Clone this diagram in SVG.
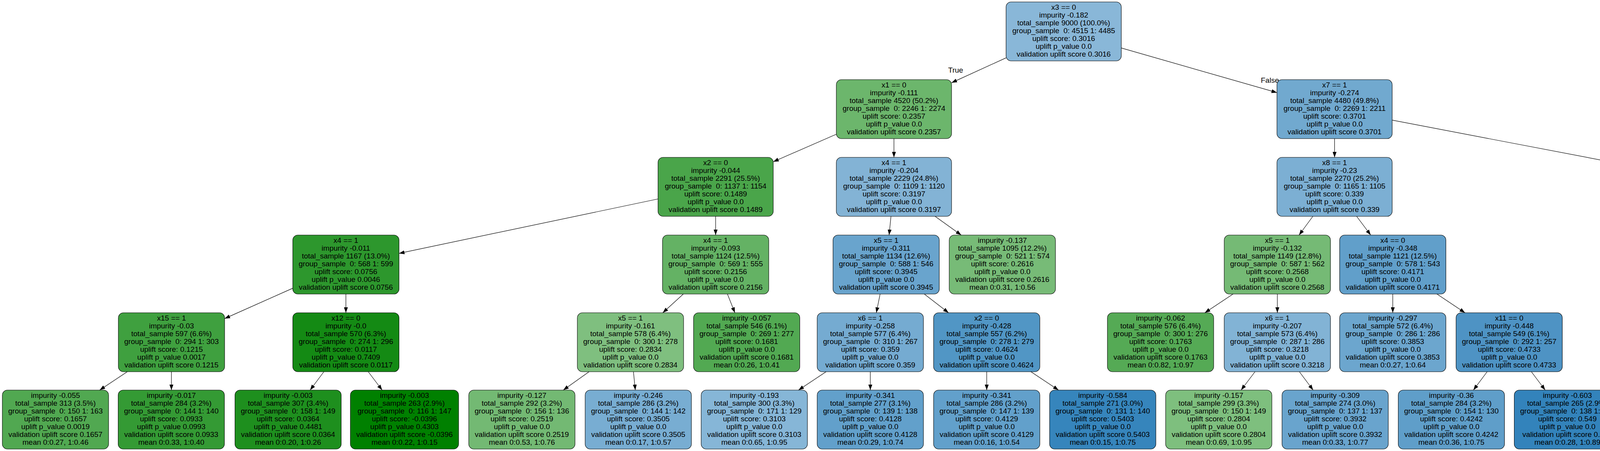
<svg xmlns="http://www.w3.org/2000/svg" width="5343" height="1155" viewBox="0 0 5343 1155">
<defs>
<style>
text{font-family:"Liberation Sans",Arial,Helvetica,sans-serif;font-size:19px;fill:#000;text-anchor:middle;white-space:pre}
.n rect{stroke:#000;stroke-width:1.1}
.e line{stroke:#000;stroke-width:1.2;marker-end:url(#ah)}
</style>
<marker id="ah" markerUnits="userSpaceOnUse" markerWidth="14" markerHeight="10" refX="14" refY="5" orient="auto" viewBox="0 0 14 10"><path d="M0,0L14,5L0,10z" fill="#000"/></marker>
</defs>
<rect width="5343" height="1155" fill="#fff"/>
<g id="connectors" class="e">
<line x1="2575.5" y1="148.1" x2="2436" y2="211.9"/>
<line x1="2870.5" y1="122.8" x2="3269" y2="237.2"/>
<line x1="2141" y1="343.8" x2="1979.5" y2="414.2"/>
<line x1="2288.5" y1="355" x2="2288.5" y2="403"/>
<line x1="3416.5" y1="355" x2="3416.5" y2="403"/>
<line x1="3564" y1="307.7" x2="4309.5" y2="450.3"/>
<line x1="1684.5" y1="509.5" x2="1021.5" y2="648.9"/>
<line x1="1832" y1="554" x2="1832" y2="602"/>
<line x1="2280.9" y1="554" x2="2276.1" y2="602"/>
<line x1="2393.8" y1="554" x2="2460.7" y2="602"/>
<line x1="3360.9" y1="554" x2="3325.6" y2="602"/>
<line x1="3473" y1="554" x2="3509" y2="602"/>
<line x1="4457.2" y1="554" x2="4457.2" y2="602"/>
<line x1="4604.5" y1="544.2" x2="4767.5" y2="616.9"/>
<line x1="749.5" y1="738.1" x2="575" y2="815.9"/>
<line x1="885.5" y1="753" x2="885.5" y2="801"/>
<line x1="1749.3" y1="753" x2="1696.7" y2="801"/>
<line x1="1862.2" y1="753" x2="1881.3" y2="801"/>
<line x1="2253.1" y1="753" x2="2243.4" y2="801"/>
<line x1="2366.2" y1="753" x2="2428.3" y2="801"/>
<line x1="3156.6" y1="753" x2="3084.4" y2="801"/>
<line x1="3270" y1="753" x2="3270" y2="801"/>
<line x1="3565.5" y1="753" x2="3565.5" y2="801"/>
<line x1="3678.6" y1="753" x2="3750.4" y2="801"/>
<line x1="4401" y1="753" x2="4365" y2="801"/>
<line x1="4514" y1="753" x2="4550" y2="801"/>
<line x1="4903.5" y1="753" x2="4903.5" y2="801"/>
<line x1="5016.2" y1="753" x2="5087.8" y2="801"/>
<line x1="325.8" y1="952" x2="255.2" y2="999"/>
<line x1="438.8" y1="952" x2="438.8" y2="999"/>
<line x1="829.1" y1="952" x2="793.9" y2="999"/>
<line x1="942.7" y1="952" x2="978.3" y2="999"/>
<line x1="1508" y1="952" x2="1442" y2="999"/>
<line x1="1621.6" y1="952" x2="1626.4" y2="999"/>
<line x1="2114.8" y1="952" x2="2044.2" y2="999"/>
<line x1="2228" y1="952" x2="2228" y2="999"/>
<line x1="2526" y1="952" x2="2526" y2="999"/>
<line x1="2639.2" y1="952" x2="2709.8" y2="999"/>
<line x1="3212.8" y1="952" x2="3177.2" y2="999"/>
<line x1="3326.4" y1="952" x2="3361.6" y2="999"/>
<line x1="3807.1" y1="952" x2="3771.9" y2="999"/>
<line x1="3920.3" y1="952" x2="3955.7" y2="999"/>
<line x1="4308.5" y1="952" x2="4308.5" y2="999"/>
<line x1="4422.1" y1="952" x2="4492.9" y2="999"/>
<line x1="4903.5" y1="952" x2="4903.5" y2="999"/>
<line x1="5016.7" y1="952" x2="5087.3" y2="999"/>
<text x="2446.5" y="186">True</text>
<text x="3251" y="212">False</text>
</g>

<g id="node0" class="n"><rect x="2575.5" y="5" width="295" height="151" rx="13" fill="#89b7d8"/><text x="2723" y="25"><tspan x="2723">x3 == 0</tspan><tspan x="2723" dy="20">impurity -0.182</tspan><tspan x="2723" dy="20">total_sample 9000 (100.0%)</tspan><tspan x="2723" dy="20">group_sample  0: 4515 1: 4485</tspan><tspan x="2723" dy="20">uplift score: 0.3016</tspan><tspan x="2723" dy="20">uplift p_value 0.0</tspan><tspan x="2723" dy="20">validation uplift score 0.3016</tspan></text></g>

<g id="node1" class="n"><rect x="2141" y="204" width="295" height="151" rx="13" fill="#6cb66c"/><text x="2288.5" y="224"><tspan x="2288.5">x1 == 0</tspan><tspan x="2288.5" dy="20">impurity -0.111</tspan><tspan x="2288.5" dy="20">total_sample 4520 (50.2%)</tspan><tspan x="2288.5" dy="20">group_sample  0: 2246 1: 2274</tspan><tspan x="2288.5" dy="20">uplift score: 0.2357</tspan><tspan x="2288.5" dy="20">uplift p_value 0.0</tspan><tspan x="2288.5" dy="20">validation uplift score 0.2357</tspan></text></g>

<g id="node2" class="n"><rect x="3269" y="204" width="295" height="151" rx="13" fill="#71a9cf"/><text x="3416.5" y="224"><tspan x="3416.5">x7 == 1</tspan><tspan x="3416.5" dy="20">impurity -0.274</tspan><tspan x="3416.5" dy="20">total_sample 4480 (49.8%)</tspan><tspan x="3416.5" dy="20">group_sample  0: 2269 1: 2211</tspan><tspan x="3416.5" dy="20">uplift score: 0.3701</tspan><tspan x="3416.5" dy="20">uplift p_value 0.0</tspan><tspan x="3416.5" dy="20">validation uplift score 0.3701</tspan></text></g>

<g id="node3" class="n"><rect x="1684.5" y="403" width="295" height="151" rx="13" fill="#4aa54a"/><text x="1832" y="423"><tspan x="1832">x2 == 0</tspan><tspan x="1832" dy="20">impurity -0.044</tspan><tspan x="1832" dy="20">total_sample 2291 (25.5%)</tspan><tspan x="1832" dy="20">group_sample  0: 1137 1: 1154</tspan><tspan x="1832" dy="20">uplift score: 0.1489</tspan><tspan x="1832" dy="20">uplift p_value 0.0</tspan><tspan x="1832" dy="20">validation uplift score 0.1489</tspan></text></g>

<g id="node4" class="n"><rect x="2141" y="403" width="295" height="151" rx="13" fill="#83b3d5"/><text x="2288.5" y="423"><tspan x="2288.5">x4 == 1</tspan><tspan x="2288.5" dy="20">impurity -0.204</tspan><tspan x="2288.5" dy="20">total_sample 2229 (24.8%)</tspan><tspan x="2288.5" dy="20">group_sample  0: 1109 1: 1120</tspan><tspan x="2288.5" dy="20">uplift score: 0.3197</tspan><tspan x="2288.5" dy="20">uplift p_value 0.0</tspan><tspan x="2288.5" dy="20">validation uplift score 0.3197</tspan></text></g>

<g id="node5" class="n"><rect x="3269" y="403" width="295" height="151" rx="13" fill="#7cafd3"/><text x="3416.5" y="423"><tspan x="3416.5">x8 == 1</tspan><tspan x="3416.5" dy="20">impurity -0.23</tspan><tspan x="3416.5" dy="20">total_sample 2270 (25.2%)</tspan><tspan x="3416.5" dy="20">group_sample  0: 1165 1: 1105</tspan><tspan x="3416.5" dy="20">uplift score: 0.339</tspan><tspan x="3416.5" dy="20">uplift p_value 0.0</tspan><tspan x="3416.5" dy="20">validation uplift score 0.339</tspan></text></g>

<g id="node6" class="n"><rect x="4309.5" y="403" width="295" height="151" rx="13" fill="#62a0ca"/><text x="4457" y="423"><tspan x="4457">x6 == 0</tspan><tspan x="4457" dy="20">impurity -0.342</tspan><tspan x="4457" dy="20">total_sample 2210 (24.6%)</tspan><tspan x="4457" dy="20">group_sample  0: 1104 1: 1106</tspan><tspan x="4457" dy="20">uplift score: 0.4134</tspan><tspan x="4457" dy="20">uplift p_value 0.0</tspan><tspan x="4457" dy="20">validation uplift score 0.4134</tspan></text></g>

<g id="node7" class="n"><rect x="749.5" y="602" width="272" height="151" rx="13" fill="#2d972d"/><text x="885.5" y="622"><tspan x="885.5">x4 == 1</tspan><tspan x="885.5" dy="20">impurity -0.011</tspan><tspan x="885.5" dy="20">total_sample 1167 (13.0%)</tspan><tspan x="885.5" dy="20">group_sample  0: 568 1: 599</tspan><tspan x="885.5" dy="20">uplift score: 0.0756</tspan><tspan x="885.5" dy="20">uplift p_value 0.0046</tspan><tspan x="885.5" dy="20">validation uplift score 0.0756</tspan></text></g>

<g id="node8" class="n"><rect x="1696" y="602" width="272" height="151" rx="13" fill="#64b264"/><text x="1832" y="622"><tspan x="1832">x4 == 1</tspan><tspan x="1832" dy="20">impurity -0.093</tspan><tspan x="1832" dy="20">total_sample 1124 (12.5%)</tspan><tspan x="1832" dy="20">group_sample  0: 569 1: 555</tspan><tspan x="1832" dy="20">uplift score: 0.2156</tspan><tspan x="1832" dy="20">uplift p_value 0.0</tspan><tspan x="1832" dy="20">validation uplift score 0.2156</tspan></text></g>

<g id="node9" class="n"><rect x="2132.5" y="602" width="272" height="151" rx="13" fill="#69a4cd"/><text x="2268.5" y="622"><tspan x="2268.5">x5 == 1</tspan><tspan x="2268.5" dy="20">impurity -0.311</tspan><tspan x="2268.5" dy="20">total_sample 1134 (12.6%)</tspan><tspan x="2268.5" dy="20">group_sample  0: 588 1: 546</tspan><tspan x="2268.5" dy="20">uplift score: 0.3945</tspan><tspan x="2268.5" dy="20">uplift p_value 0.0</tspan><tspan x="2268.5" dy="20">validation uplift score 0.3945</tspan></text></g>

<g id="node10" class="n"><rect x="2430" y="602" width="272" height="151" rx="13" fill="#77bb77"/><text x="2566" y="622"><tspan x="2566">impurity -0.137</tspan><tspan x="2566" dy="20">total_sample 1095 (12.2%)</tspan><tspan x="2566" dy="20">group_sample  0: 521 1: 574</tspan><tspan x="2566" dy="20">uplift score: 0.2616</tspan><tspan x="2566" dy="20">uplift p_value 0.0</tspan><tspan x="2566" dy="20">validation uplift score 0.2616</tspan><tspan x="2566" dy="20">mean 0:0.31, 1:0.56</tspan></text></g>

<g id="node11" class="n"><rect x="3134" y="602" width="272" height="151" rx="13" fill="#75ba75"/><text x="3270" y="622"><tspan x="3270">x5 == 1</tspan><tspan x="3270" dy="20">impurity -0.132</tspan><tspan x="3270" dy="20">total_sample 1149 (12.8%)</tspan><tspan x="3270" dy="20">group_sample  0: 587 1: 562</tspan><tspan x="3270" dy="20">uplift score: 0.2568</tspan><tspan x="3270" dy="20">uplift p_value 0.0</tspan><tspan x="3270" dy="20">validation uplift score 0.2568</tspan></text></g>

<g id="node12" class="n"><rect x="3429.5" y="602" width="272" height="151" rx="13" fill="#619fca"/><text x="3565.5" y="622"><tspan x="3565.5">x4 == 0</tspan><tspan x="3565.5" dy="20">impurity -0.348</tspan><tspan x="3565.5" dy="20">total_sample 1121 (12.5%)</tspan><tspan x="3565.5" dy="20">group_sample  0: 578 1: 543</tspan><tspan x="3565.5" dy="20">uplift score: 0.4171</tspan><tspan x="3565.5" dy="20">uplift p_value 0.0</tspan><tspan x="3565.5" dy="20">validation uplift score 0.4171</tspan></text></g>

<g id="node13" class="n"><rect x="4321.5" y="602" width="272" height="151" rx="13" fill="#69a4cd"/><text x="4457.5" y="622"><tspan x="4457.5">x4 == 1</tspan><tspan x="4457.5" dy="20">impurity -0.312</tspan><tspan x="4457.5" dy="20">total_sample 1126 (12.5%)</tspan><tspan x="4457.5" dy="20">group_sample  0: 547 1: 579</tspan><tspan x="4457.5" dy="20">uplift score: 0.3947</tspan><tspan x="4457.5" dy="20">uplift p_value 0.0</tspan><tspan x="4457.5" dy="20">validation uplift score 0.3947</tspan></text></g>

<g id="node14" class="n"><rect x="4767.5" y="602" width="272" height="151" rx="13" fill="#5698c6"/><text x="4903.5" y="622"><tspan x="4903.5">x4 == 1</tspan><tspan x="4903.5" dy="20">impurity -0.405</tspan><tspan x="4903.5" dy="20">total_sample 1084 (12.0%)</tspan><tspan x="4903.5" dy="20">group_sample  0: 557 1: 527</tspan><tspan x="4903.5" dy="20">uplift score: 0.4501</tspan><tspan x="4903.5" dy="20">uplift p_value 0.0</tspan><tspan x="4903.5" dy="20">validation uplift score 0.4501</tspan></text></g>

<g id="node15" class="n"><rect x="303" y="801" width="272" height="151" rx="13" fill="#3fa03f"/><text x="439" y="821"><tspan x="439">x15 == 1</tspan><tspan x="439" dy="20">impurity -0.03</tspan><tspan x="439" dy="20">total_sample 597 (6.6%)</tspan><tspan x="439" dy="20">group_sample  0: 294 1: 303</tspan><tspan x="439" dy="20">uplift score: 0.1215</tspan><tspan x="439" dy="20">uplift p_value 0.0017</tspan><tspan x="439" dy="20">validation uplift score 0.1215</tspan></text></g>

<g id="node16" class="n"><rect x="749.5" y="801" width="272" height="151" rx="13" fill="#148a14"/><text x="885.5" y="821"><tspan x="885.5">x12 == 0</tspan><tspan x="885.5" dy="20">impurity -0.0</tspan><tspan x="885.5" dy="20">total_sample 570 (6.3%)</tspan><tspan x="885.5" dy="20">group_sample  0: 274 1: 296</tspan><tspan x="885.5" dy="20">uplift score: 0.0117</tspan><tspan x="885.5" dy="20">uplift p_value 0.7409</tspan><tspan x="885.5" dy="20">validation uplift score 0.0117</tspan></text></g>

<g id="node17" class="n"><rect x="1478" y="801" width="272" height="151" rx="13" fill="#7fbf7f"/><text x="1614" y="821"><tspan x="1614">x5 == 1</tspan><tspan x="1614" dy="20">impurity -0.161</tspan><tspan x="1614" dy="20">total_sample 578 (6.4%)</tspan><tspan x="1614" dy="20">group_sample  0: 300 1: 278</tspan><tspan x="1614" dy="20">uplift score: 0.2834</tspan><tspan x="1614" dy="20">uplift p_value 0.0</tspan><tspan x="1614" dy="20">validation uplift score 0.2834</tspan></text></g>

<g id="node18" class="n"><rect x="1775.5" y="801" width="272" height="151" rx="13" fill="#52a952"/><text x="1911.5" y="821"><tspan x="1911.5">impurity -0.057</tspan><tspan x="1911.5" dy="20">total_sample 546 (6.1%)</tspan><tspan x="1911.5" dy="20">group_sample  0: 269 1: 277</tspan><tspan x="1911.5" dy="20">uplift score: 0.1681</tspan><tspan x="1911.5" dy="20">uplift p_value 0.0</tspan><tspan x="1911.5" dy="20">validation uplift score 0.1681</tspan><tspan x="1911.5" dy="20">mean 0:0.26, 1:0.41</tspan></text></g>

<g id="node19" class="n"><rect x="2092" y="801" width="272" height="151" rx="13" fill="#75abd1"/><text x="2228" y="821"><tspan x="2228">x6 == 1</tspan><tspan x="2228" dy="20">impurity -0.258</tspan><tspan x="2228" dy="20">total_sample 577 (6.4%)</tspan><tspan x="2228" dy="20">group_sample  0: 310 1: 267</tspan><tspan x="2228" dy="20">uplift score: 0.359</tspan><tspan x="2228" dy="20">uplift p_value 0.0</tspan><tspan x="2228" dy="20">validation uplift score 0.359</tspan></text></g>

<g id="node20" class="n"><rect x="2390" y="801" width="272" height="151" rx="13" fill="#5196c5"/><text x="2526" y="821"><tspan x="2526">x2 == 0</tspan><tspan x="2526" dy="20">impurity -0.428</tspan><tspan x="2526" dy="20">total_sample 557 (6.2%)</tspan><tspan x="2526" dy="20">group_sample  0: 278 1: 279</tspan><tspan x="2526" dy="20">uplift score: 0.4624</tspan><tspan x="2526" dy="20">uplift p_value 0.0</tspan><tspan x="2526" dy="20">validation uplift score 0.4624</tspan></text></g>

<g id="node21" class="n"><rect x="2835" y="801" width="272" height="151" rx="13" fill="#55aa55"/><text x="2971" y="821"><tspan x="2971">impurity -0.062</tspan><tspan x="2971" dy="20">total_sample 576 (6.4%)</tspan><tspan x="2971" dy="20">group_sample  0: 300 1: 276</tspan><tspan x="2971" dy="20">uplift score: 0.1763</tspan><tspan x="2971" dy="20">uplift p_value 0.0</tspan><tspan x="2971" dy="20">validation uplift score 0.1763</tspan><tspan x="2971" dy="20">mean 0:0.82, 1:0.97</tspan></text></g>

<g id="node22" class="n"><rect x="3134" y="801" width="272" height="151" rx="13" fill="#82b3d5"/><text x="3270" y="821"><tspan x="3270">x6 == 1</tspan><tspan x="3270" dy="20">impurity -0.207</tspan><tspan x="3270" dy="20">total_sample 573 (6.4%)</tspan><tspan x="3270" dy="20">group_sample  0: 287 1: 286</tspan><tspan x="3270" dy="20">uplift score: 0.3218</tspan><tspan x="3270" dy="20">uplift p_value 0.0</tspan><tspan x="3270" dy="20">validation uplift score 0.3218</tspan></text></g>

<g id="node23" class="n"><rect x="3429.5" y="801" width="272" height="151" rx="13" fill="#6ca6ce"/><text x="3565.5" y="821"><tspan x="3565.5">impurity -0.297</tspan><tspan x="3565.5" dy="20">total_sample 572 (6.4%)</tspan><tspan x="3565.5" dy="20">group_sample  0: 286 1: 286</tspan><tspan x="3565.5" dy="20">uplift score: 0.3853</tspan><tspan x="3565.5" dy="20">uplift p_value 0.0</tspan><tspan x="3565.5" dy="20">validation uplift score 0.3853</tspan><tspan x="3565.5" dy="20">mean 0:0.27, 1:0.64</tspan></text></g>

<g id="node24" class="n"><rect x="3727.5" y="801" width="272" height="151" rx="13" fill="#4e93c4"/><text x="3863.5" y="821"><tspan x="3863.5">x11 == 0</tspan><tspan x="3863.5" dy="20">impurity -0.448</tspan><tspan x="3863.5" dy="20">total_sample 549 (6.1%)</tspan><tspan x="3863.5" dy="20">group_sample  0: 292 1: 257</tspan><tspan x="3863.5" dy="20">uplift score: 0.4733</tspan><tspan x="3863.5" dy="20">uplift p_value 0.0</tspan><tspan x="3863.5" dy="20">validation uplift score 0.4733</tspan></text></g>

<g id="node25" class="n"><rect x="4172.5" y="801" width="272" height="151" rx="13" fill="#5397c6"/><text x="4308.5" y="821"><tspan x="4308.5">x8 == 1</tspan><tspan x="4308.5" dy="20">impurity -0.417</tspan><tspan x="4308.5" dy="20">total_sample 614 (6.8%)</tspan><tspan x="4308.5" dy="20">group_sample  0: 300 1: 314</tspan><tspan x="4308.5" dy="20">uplift score: 0.4569</tspan><tspan x="4308.5" dy="20">uplift p_value 0.0</tspan><tspan x="4308.5" dy="20">validation uplift score 0.4569</tspan></text></g>

<g id="node26" class="n"><rect x="4470.5" y="801" width="272" height="151" rx="13" fill="#83b3d5"/><text x="4606.5" y="821"><tspan x="4606.5">impurity -0.205</tspan><tspan x="4606.5" dy="20">total_sample 512 (5.7%)</tspan><tspan x="4606.5" dy="20">group_sample  0: 247 1: 265</tspan><tspan x="4606.5" dy="20">uplift score: 0.3202</tspan><tspan x="4606.5" dy="20">uplift p_value 0.0</tspan><tspan x="4606.5" dy="20">validation uplift score 0.3202</tspan><tspan x="4606.5" dy="20">mean 0:0.08, 1:0.37</tspan></text></g>

<g id="node27" class="n"><rect x="4767.5" y="801" width="272" height="151" rx="13" fill="#438dc0"/><text x="4903.5" y="821"><tspan x="4903.5">x5 == 0</tspan><tspan x="4903.5" dy="20">impurity -0.509</tspan><tspan x="4903.5" dy="20">total_sample 543 (6.0%)</tspan><tspan x="4903.5" dy="20">group_sample  0: 278 1: 265</tspan><tspan x="4903.5" dy="20">uplift score: 0.5045</tspan><tspan x="4903.5" dy="20">uplift p_value 0.0</tspan><tspan x="4903.5" dy="20">validation uplift score 0.5045</tspan></text></g>

<g id="node28" class="n"><rect x="5064.5" y="801" width="272" height="151" rx="13" fill="#65a1cb"/><text x="5200.5" y="821"><tspan x="5200.5">impurity -0.33</tspan><tspan x="5200.5" dy="20">total_sample 541 (6.0%)</tspan><tspan x="5200.5" dy="20">group_sample  0: 279 1: 262</tspan><tspan x="5200.5" dy="20">uplift score: 0.4061</tspan><tspan x="5200.5" dy="20">uplift p_value 0.0</tspan><tspan x="5200.5" dy="20">validation uplift score 0.4061</tspan><tspan x="5200.5" dy="20">mean 0:0.29, 1:0.68</tspan></text></g>

<g id="node29" class="n"><rect x="6" y="999" width="272" height="151" rx="13" fill="#51a851"/><text x="142" y="1019"><tspan x="142">impurity -0.055</tspan><tspan x="142" dy="20">total_sample 313 (3.5%)</tspan><tspan x="142" dy="20">group_sample  0: 150 1: 163</tspan><tspan x="142" dy="20">uplift score: 0.1657</tspan><tspan x="142" dy="20">uplift p_value 0.0019</tspan><tspan x="142" dy="20">validation uplift score 0.1657</tspan><tspan x="142" dy="20">mean 0:0.27, 1:0.46</tspan></text></g>

<g id="node30" class="n"><rect x="302.5" y="999" width="272" height="151" rx="13" fill="#349a34"/><text x="438.5" y="1019"><tspan x="438.5">impurity -0.017</tspan><tspan x="438.5" dy="20">total_sample 284 (3.2%)</tspan><tspan x="438.5" dy="20">group_sample  0: 144 1: 140</tspan><tspan x="438.5" dy="20">uplift score: 0.0933</tspan><tspan x="438.5" dy="20">uplift p_value 0.0993</tspan><tspan x="438.5" dy="20">validation uplift score 0.0933</tspan><tspan x="438.5" dy="20">mean 0:0.33, 1:0.40</tspan></text></g>

<g id="node31" class="n"><rect x="601.5" y="999" width="272" height="151" rx="13" fill="#1e8f1e"/><text x="737.5" y="1019"><tspan x="737.5">impurity -0.003</tspan><tspan x="737.5" dy="20">total_sample 307 (3.4%)</tspan><tspan x="737.5" dy="20">group_sample  0: 158 1: 149</tspan><tspan x="737.5" dy="20">uplift score: 0.0364</tspan><tspan x="737.5" dy="20">uplift p_value 0.4481</tspan><tspan x="737.5" dy="20">validation uplift score 0.0364</tspan><tspan x="737.5" dy="20">mean 0:0.20, 1:0.26</tspan></text></g>

<g id="node32" class="n"><rect x="897" y="999" width="277" height="151" rx="13" fill="#008000"/><text x="1035.5" y="1019"><tspan x="1035.5">impurity -0.003</tspan><tspan x="1035.5" dy="20">total_sample 263 (2.9%)</tspan><tspan x="1035.5" dy="20">group_sample  0: 116 1: 147</tspan><tspan x="1035.5" dy="20">uplift score: -0.0396</tspan><tspan x="1035.5" dy="20">uplift p_value 0.4303</tspan><tspan x="1035.5" dy="20">validation uplift score -0.0396</tspan><tspan x="1035.5" dy="20">mean 0:0.22, 1:0.15</tspan></text></g>

<g id="node33" class="n"><rect x="1200" y="999" width="272" height="151" rx="13" fill="#73b973"/><text x="1336" y="1019"><tspan x="1336">impurity -0.127</tspan><tspan x="1336" dy="20">total_sample 292 (3.2%)</tspan><tspan x="1336" dy="20">group_sample  0: 156 1: 136</tspan><tspan x="1336" dy="20">uplift score: 0.2519</tspan><tspan x="1336" dy="20">uplift p_value 0.0</tspan><tspan x="1336" dy="20">validation uplift score 0.2519</tspan><tspan x="1336" dy="20">mean 0:0.53, 1:0.76</tspan></text></g>

<g id="node34" class="n"><rect x="1498" y="999" width="272" height="151" rx="13" fill="#78add2"/><text x="1634" y="1019"><tspan x="1634">impurity -0.246</tspan><tspan x="1634" dy="20">total_sample 286 (3.2%)</tspan><tspan x="1634" dy="20">group_sample  0: 144 1: 142</tspan><tspan x="1634" dy="20">uplift score: 0.3505</tspan><tspan x="1634" dy="20">uplift p_value 0.0</tspan><tspan x="1634" dy="20">validation uplift score 0.3505</tspan><tspan x="1634" dy="20">mean 0:0.17, 1:0.57</tspan></text></g>

<g id="node35" class="n"><rect x="1795" y="999" width="272" height="151" rx="13" fill="#86b6d7"/><text x="1931" y="1019"><tspan x="1931">impurity -0.193</tspan><tspan x="1931" dy="20">total_sample 300 (3.3%)</tspan><tspan x="1931" dy="20">group_sample  0: 171 1: 129</tspan><tspan x="1931" dy="20">uplift score: 0.3103</tspan><tspan x="1931" dy="20">uplift p_value 0.0</tspan><tspan x="1931" dy="20">validation uplift score 0.3103</tspan><tspan x="1931" dy="20">mean 0:0.65, 1:0.95</tspan></text></g>

<g id="node36" class="n"><rect x="2092" y="999" width="272" height="151" rx="13" fill="#62a0cb"/><text x="2228" y="1019"><tspan x="2228">impurity -0.341</tspan><tspan x="2228" dy="20">total_sample 277 (3.1%)</tspan><tspan x="2228" dy="20">group_sample  0: 139 1: 138</tspan><tspan x="2228" dy="20">uplift score: 0.4128</tspan><tspan x="2228" dy="20">uplift p_value 0.0</tspan><tspan x="2228" dy="20">validation uplift score 0.4128</tspan><tspan x="2228" dy="20">mean 0:0.29, 1:0.74</tspan></text></g>

<g id="node37" class="n"><rect x="2390" y="999" width="272" height="151" rx="13" fill="#62a0cb"/><text x="2526" y="1019"><tspan x="2526">impurity -0.341</tspan><tspan x="2526" dy="20">total_sample 286 (3.2%)</tspan><tspan x="2526" dy="20">group_sample  0: 147 1: 139</tspan><tspan x="2526" dy="20">uplift score: 0.4129</tspan><tspan x="2526" dy="20">uplift p_value 0.0</tspan><tspan x="2526" dy="20">validation uplift score 0.4129</tspan><tspan x="2526" dy="20">mean 0:0.16, 1:0.54</tspan></text></g>

<g id="node38" class="n"><rect x="2687" y="999" width="272" height="151" rx="13" fill="#3685bc"/><text x="2823" y="1019"><tspan x="2823">impurity -0.584</tspan><tspan x="2823" dy="20">total_sample 271 (3.0%)</tspan><tspan x="2823" dy="20">group_sample  0: 131 1: 140</tspan><tspan x="2823" dy="20">uplift score: 0.5403</tspan><tspan x="2823" dy="20">uplift p_value 0.0</tspan><tspan x="2823" dy="20">validation uplift score 0.5403</tspan><tspan x="2823" dy="20">mean 0:0.15, 1:0.75</tspan></text></g>

<g id="node39" class="n"><rect x="2984" y="999" width="272" height="151" rx="13" fill="#7ebf7e"/><text x="3120" y="1019"><tspan x="3120">impurity -0.157</tspan><tspan x="3120" dy="20">total_sample 299 (3.3%)</tspan><tspan x="3120" dy="20">group_sample  0: 150 1: 149</tspan><tspan x="3120" dy="20">uplift score: 0.2804</tspan><tspan x="3120" dy="20">uplift p_value 0.0</tspan><tspan x="3120" dy="20">validation uplift score 0.2804</tspan><tspan x="3120" dy="20">mean 0:0.69, 1:0.95</tspan></text></g>

<g id="node40" class="n"><rect x="3282" y="999" width="272" height="151" rx="13" fill="#69a4cd"/><text x="3418" y="1019"><tspan x="3418">impurity -0.309</tspan><tspan x="3418" dy="20">total_sample 274 (3.0%)</tspan><tspan x="3418" dy="20">group_sample  0: 137 1: 137</tspan><tspan x="3418" dy="20">uplift score: 0.3932</tspan><tspan x="3418" dy="20">uplift p_value 0.0</tspan><tspan x="3418" dy="20">validation uplift score 0.3932</tspan><tspan x="3418" dy="20">mean 0:0.33, 1:0.77</tspan></text></g>

<g id="node41" class="n"><rect x="3579.5" y="999" width="272" height="151" rx="13" fill="#5f9ec9"/><text x="3715.5" y="1019"><tspan x="3715.5">impurity -0.36</tspan><tspan x="3715.5" dy="20">total_sample 284 (3.2%)</tspan><tspan x="3715.5" dy="20">group_sample  0: 154 1: 130</tspan><tspan x="3715.5" dy="20">uplift score: 0.4242</tspan><tspan x="3715.5" dy="20">uplift p_value 0.0</tspan><tspan x="3715.5" dy="20">validation uplift score 0.4242</tspan><tspan x="3715.5" dy="20">mean 0:0.36, 1:0.75</tspan></text></g>

<g id="node42" class="n"><rect x="3876.5" y="999" width="272" height="151" rx="13" fill="#3383bb"/><text x="4012.5" y="1019"><tspan x="4012.5">impurity -0.603</tspan><tspan x="4012.5" dy="20">total_sample 265 (2.9%)</tspan><tspan x="4012.5" dy="20">group_sample  0: 138 1: 127</tspan><tspan x="4012.5" dy="20">uplift score: 0.549</tspan><tspan x="4012.5" dy="20">uplift p_value 0.0</tspan><tspan x="4012.5" dy="20">validation uplift score 0.549</tspan><tspan x="4012.5" dy="20">mean 0:0.28, 1:0.89</tspan></text></g>

<g id="node43" class="n"><rect x="4172.5" y="999" width="272" height="151" rx="13" fill="#3f8abf"/><text x="4308.5" y="1019"><tspan x="4308.5">impurity -0.533</tspan><tspan x="4308.5" dy="20">total_sample 310 (3.4%)</tspan><tspan x="4308.5" dy="20">group_sample  0: 160 1: 150</tspan><tspan x="4308.5" dy="20">uplift score: 0.516</tspan><tspan x="4308.5" dy="20">uplift p_value 0.0</tspan><tspan x="4308.5" dy="20">validation uplift score 0.516</tspan><tspan x="4308.5" dy="20">mean 0:0.16, 1:0.71</tspan></text></g>

<g id="node44" class="n"><rect x="4470.5" y="999" width="272" height="151" rx="13" fill="#5d9cc9"/><text x="4606.5" y="1019"><tspan x="4606.5">impurity -0.37</tspan><tspan x="4606.5" dy="20">total_sample 304 (3.4%)</tspan><tspan x="4606.5" dy="20">group_sample  0: 140 1: 164</tspan><tspan x="4606.5" dy="20">uplift score: 0.4301</tspan><tspan x="4606.5" dy="20">uplift p_value 0.0</tspan><tspan x="4606.5" dy="20">validation uplift score 0.4301</tspan><tspan x="4606.5" dy="20">mean 0:0.01, 1:0.43</tspan></text></g>

<g id="node45" class="n"><rect x="4767.5" y="999" width="272" height="151" rx="13" fill="#1f77b4"/><text x="4903.5" y="1019"><tspan x="4903.5">impurity -0.739</tspan><tspan x="4903.5" dy="20">total_sample 286 (3.2%)</tspan><tspan x="4903.5" dy="20">group_sample  0: 154 1: 132</tspan><tspan x="4903.5" dy="20">uplift score: 0.6079</tspan><tspan x="4903.5" dy="20">uplift p_value 0.0</tspan><tspan x="4903.5" dy="20">validation uplift score 0.6079</tspan><tspan x="4903.5" dy="20">mean 0:0.14, 1:0.81</tspan></text></g>

<g id="node46" class="n"><rect x="5064.5" y="999" width="272" height="151" rx="13" fill="#64a1cb"/><text x="5200.5" y="1019"><tspan x="5200.5">impurity -0.335</tspan><tspan x="5200.5" dy="20">total_sample 257 (2.9%)</tspan><tspan x="5200.5" dy="20">group_sample  0: 124 1: 133</tspan><tspan x="5200.5" dy="20">uplift score: 0.4093</tspan><tspan x="5200.5" dy="20">uplift p_value 0.0</tspan><tspan x="5200.5" dy="20">validation uplift score 0.4093</tspan><tspan x="5200.5" dy="20">mean 0:0.56, 1:0.89</tspan></text></g>
</svg>
